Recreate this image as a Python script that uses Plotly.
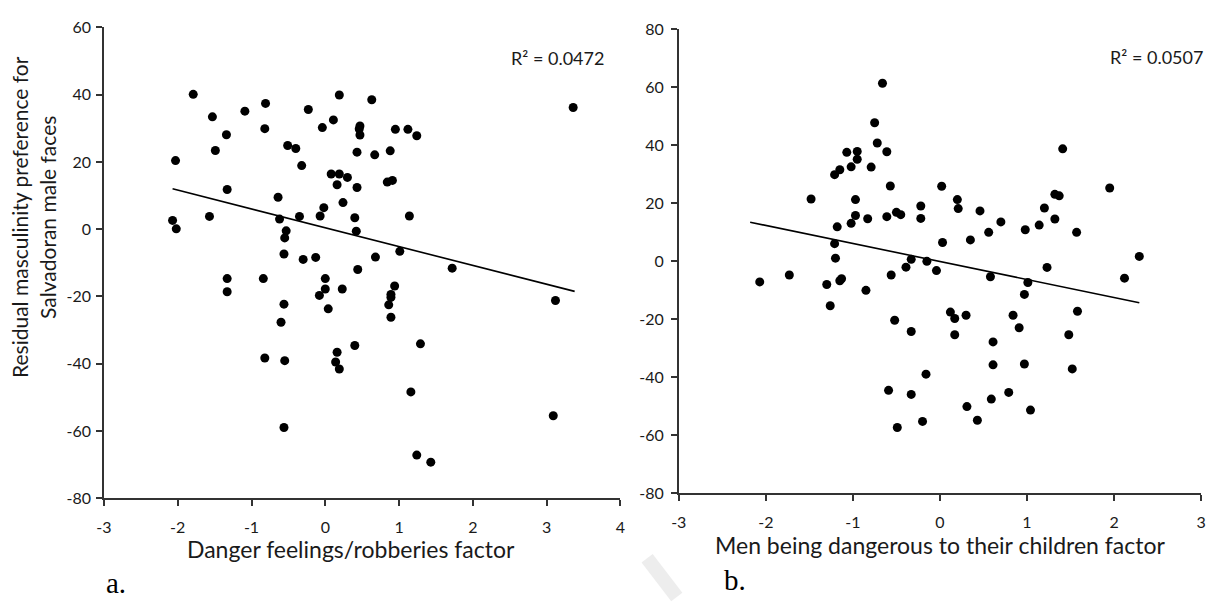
import numpy as np
import plotly.graph_objects as go

W, H = 1217, 604

# ---------------- Data ----------------
# Panel a: Danger feelings/robberies factor vs residual masculinity preference
a_x = [-2.03, -1.79, -1.53, -1.49, -1.34, -1.33, -1.57, -2.07, -2.02, -1.09,
       -0.81, -0.82, -0.51, -0.40, -0.32, -0.23, -0.04, 0.11, 0.19, -0.64,
       -0.62, -0.53, -0.55, -0.35, -0.56, -0.30, -0.13, -0.07, -0.02, 0.08,
       0.19, 0.30, 0.16, 0.24, 0.63, 0.47, 0.46, 0.47, 0.95, 1.12,
       1.24, 0.43, 0.67, 0.88, 0.43, 0.84, 0.91, 0.40, 0.42, 1.14,
       1.01, 0.68, 0.44, 1.72, 3.36, -1.33, -1.33, -0.84, -0.56, -0.60,
       -0.82, -0.55, -0.56, 0.00, 0.00, -0.08, 0.23, 0.04, 0.16, 0.14,
       0.19, 0.40, 0.94, 0.89, 0.89, 0.86, 0.89, 1.29, 3.12, 1.16,
       3.09, 1.24, 1.43]
a_y = [20.4, 40.1, 33.4, 23.4, 28.1, 11.8, 3.8, 2.6, 0.1, 35.1,
       37.4, 29.9, 24.9, 24.0, 18.9, 35.6, 30.2, 32.5, 39.9, 9.5,
       3.0, -0.5, -2.6, 3.8, -7.4, -9.0, -8.4, 3.9, 6.4, 16.4,
       16.4, 15.4, 13.2, 7.9, 38.5, 30.7, 29.8, 28.0, 29.7, 29.7,
       27.8, 22.9, 22.1, 23.3, 12.4, 14.0, 14.5, 3.4, -0.6, 3.9,
       -6.6, -8.3, -12.0, -11.6, 36.2, -14.7, -18.6, -14.7, -22.3, -27.7,
       -38.3, -39.1, -59.0, -14.7, -17.8, -19.7, -17.8, -23.7, -36.6, -39.5,
       -41.6, -34.6, -16.9, -19.4, -20.3, -22.5, -26.2, -34.1, -21.2, -48.4,
       -55.5, -67.2, -69.3]
trend_a_x = [-2.07, 3.38]
trend_a_y = [12.0, -18.5]
r2_a = "R² = 0.0472"

# Panel b: Men being dangerous to their children factor
b_x = [-1.48, -1.21, -1.15, -1.07, -1.02, -0.95, -0.95, -0.97, -0.97, -1.02,
       -1.18, -1.21, -1.20, -0.83, -0.79, -0.75, -0.72, -0.66, -0.61, -0.57,
       -0.61, -0.50, -0.45, -0.22, -0.22, 0.02, 0.03, 0.20, 0.21, 0.46,
       0.35, 0.56, 0.70, 0.98, 1.14, 1.20, 1.32, 1.32, 1.37, 1.41,
       1.57, 1.95, 2.29, -0.33, -0.15, -0.39, -0.04, 1.23, -0.56, 0.58,
       1.01, 0.97, 2.12, -0.52, -0.33, 0.12, 0.17, 0.30, 0.17, 0.61,
       0.84, 0.91, 0.61, 0.97, 1.48, 1.58, 1.52, -0.16, -0.59, -0.33,
       0.31, 0.59, 0.79, 1.04, -0.49, -0.20, 0.43, -2.07, -1.73, -1.30,
       -1.26, -1.15, -1.13, -0.85]
b_y = [21.5, 29.9, 31.6, 37.6, 32.6, 37.9, 35.2, 21.3, 15.8, 13.1,
       11.9, 6.1, 1.1, 14.7, 32.5, 47.8, 40.8, 61.4, 37.8, 26.0,
       15.4, 16.9, 16.1, 19.1, 14.8, 25.9, 6.5, 21.3, 18.2, 17.4,
       7.4, 10.0, 13.6, 10.9, 12.5, 18.4, 14.6, 23.1, 22.6, 38.8,
       10.0, 25.3, 1.7, 0.7, 0.0, -2.0, -3.2, -2.1, -4.7, -5.3,
       -7.3, -11.4, -5.8, -20.3, -24.2, -17.5, -19.7, -18.6, -25.3, -27.8,
       -18.6, -22.9, -35.7, -35.4, -25.3, -17.2, -37.1, -38.9, -44.5, -45.9,
       -50.1, -47.5, -45.2, -51.3, -57.3, -55.2, -54.8, -7.1, -4.7, -8.0,
       -15.3, -6.7, -6.0, -10.0]
trend_b_x = [-2.18, 2.29]
trend_b_y = [13.5, -14.3]
r2_b = "R² = 0.0507"

# Tick labels
a_xticks = [-3, -2, -1, 0, 1, 2, 3, 4]
a_xticklabels = ["-3", "-2", "-1", "0", "1", "2", "3", "4"]
a_yticks = [60, 40, 20, 0, -20, -40, -60, -80]
a_yticklabels = ["60", "40", "20", "0", "-20", "-40", "-60", "-80"]
b_xticks = [-3, -2, -1, 0, 1, 2, 3]
b_xticklabels = ["-3", "-2", "-1", "0", "1", "2", "3"]
b_yticks = [80, 60, 40, 20, 0, -20, -40, -60, -80]
b_yticklabels = ["80", "60", "40", "20", "0", "-20", "-40", "-60", "-80"]

a_xtitle = "Danger feelings/robberies factor"
b_xtitle = "Men being dangerous to their children factor"
ytitle = "Residual masculinity preference for<br>Salvadoran male faces"
panel_labels = ["a.", "b."]

# ---------------- Figure ----------------
FONT = "Lato"
AXC = "#333333"
TXT = "#1a1a1a"

fig = go.Figure()
marker = dict(color="black", size=9, line=dict(width=0))
fig.add_trace(go.Scatter(x=a_x, y=a_y, mode="markers", marker=marker,
                         xaxis="x", yaxis="y", showlegend=False))
fig.add_trace(go.Scatter(x=trend_a_x, y=trend_a_y, mode="lines",
                         line=dict(color="black", width=1.6),
                         xaxis="x", yaxis="y", showlegend=False))
fig.add_trace(go.Scatter(x=b_x, y=b_y, mode="markers", marker=marker,
                         xaxis="x2", yaxis="y2", showlegend=False))
fig.add_trace(go.Scatter(x=trend_b_x, y=trend_b_y, mode="lines",
                         line=dict(color="black", width=1.6),
                         xaxis="x2", yaxis="y2", showlegend=False))


def px(v):
    return v / W


def py(v):
    return 1 - v / H


axis_common = dict(showline=True, linecolor=AXC, linewidth=1.6,
                   ticks="outside", ticklen=6, tickwidth=1.6, tickcolor=AXC,
                   showgrid=False, zeroline=False,
                   tickfont=dict(family=FONT, size=16, color=TXT),
                   tickmode="array")

fig.update_layout(
    width=W, height=H,
    margin=dict(l=0, r=0, t=0, b=0),
    paper_bgcolor="white", plot_bgcolor="white",
    xaxis=dict(domain=[px(97), px(619)], range=[-3, 4], anchor="y",
               tickvals=a_xticks, ticktext=a_xticklabels,
               ticklabelstandoff=8, **axis_common),
    yaxis=dict(domain=[py(504), py(18)], range=[-80, 60], anchor="x",
               tickvals=a_yticks, ticktext=a_yticklabels,
               ticklabelstandoff=2, **axis_common),
    xaxis2=dict(domain=[px(678), px(1206)], range=[-3, 3], anchor="y2",
                tickvals=b_xticks, ticktext=b_xticklabels,
                ticklabelstandoff=8, **axis_common),
    yaxis2=dict(domain=[py(499), py(20)], range=[-80, 80], anchor="x2",
                tickvals=b_yticks, ticktext=b_yticklabels,
                ticklabelstandoff=4, **axis_common),
)

ann = []
ann.append(dict(text=r2_a, xref="paper", yref="paper", x=px(506), y=py(50),
                xanchor="left", yanchor="middle", showarrow=False,
                font=dict(family=FONT, size=18, color=TXT)))
ann.append(dict(text=r2_b, xref="paper", yref="paper", x=px(1112), y=py(49),
                xanchor="left", yanchor="middle", showarrow=False,
                font=dict(family=FONT, size=18, color=TXT)))
ann.append(dict(text=a_xtitle, xref="paper", yref="paper", x=px(347), y=py(556),
                xanchor="center", yanchor="middle", showarrow=False,
                font=dict(family=FONT, size=23, color=TXT)))
ann.append(dict(text=b_xtitle, xref="paper", yref="paper", x=px(942), y=py(552),
                xanchor="center", yanchor="middle", showarrow=False,
                font=dict(family=FONT, size=23, color=TXT)))
ann.append(dict(text=ytitle, xref="paper", yref="paper", x=px(26), y=py(214),
                xanchor="center", yanchor="middle", showarrow=False, textangle=-90,
                font=dict(family=FONT, size=21, color=TXT)))
ann.append(dict(text=panel_labels[0], xref="paper", yref="paper", x=px(97), y=py(592),
                xanchor="left", yanchor="middle", showarrow=False,
                font=dict(family="Liberation Serif", size=29, color="black")))
ann.append(dict(text=panel_labels[1], xref="paper", yref="paper", x=px(722), y=py(589),
                xanchor="left", yanchor="middle", showarrow=False,
                font=dict(family="Liberation Serif", size=29, color="black")))
fig.update_layout(annotations=ann)

# faint watermark stroke near panel b label
fig.add_shape(type="line", xref="paper", yref="paper",
              x0=px(646), y0=py(566), x1=px(676), y1=py(606),
              line=dict(color="#ededed", width=14), layer="below")

fig.write_html("out.html", config={"displayModeBar": False},
               post_script="document.body.style.margin='0';document.body.style.overflow='hidden';")
